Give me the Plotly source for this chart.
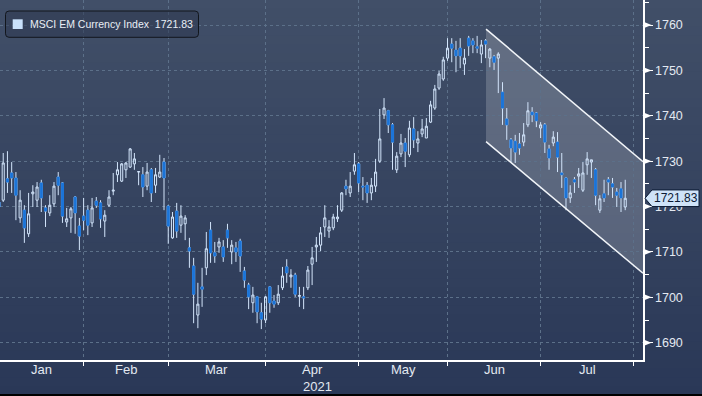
import plotly.graph_objects as go

# ---------------- data (trading-day index, OHLC) ----------------
opens = [1721.0, 1721.4, 1726.1, 1727.4, 1726.3, 1717.5, 1719.2, 1714.0, 1722.8, 1721.4,
         1725.2, 1719.7, 1718.6, 1720.6, 1726.5, 1725.2, 1716.6, 1717.5, 1722.1, 1715.7,
         1717.9, 1719.2, 1716.4, 1721.2, 1720.8, 1716.8, 1720.3, 1723.4, 1727.0, 1725.6,
         1728.1, 1728.7, 1729.4, 1727.6, 1727.0, 1724.5, 1728.1, 1724.7, 1726.5, 1729.8,
         1720.1, 1713.1, 1719.0, 1715.9, 1716.2, 1710.9, 1706.9, 1696.1, 1702.3, 1706.5,
         1714.8, 1709.8, 1711.1, 1711.1, 1714.8, 1710.0, 1710.9, 1712.4, 1705.8, 1702.7,
         1698.8, 1700.1, 1696.6, 1695.0, 1702.3, 1699.2, 1698.8, 1702.1, 1706.7, 1704.5,
         1704.9, 1700.2, 1700.1, 1702.1, 1707.3, 1711.1, 1711.5, 1715.5, 1714.6, 1715.3,
         1717.3, 1719.2, 1724.5, 1723.0, 1727.8, 1729.4, 1724.5, 1724.7, 1723.0, 1724.5,
         1730.0, 1740.2, 1741.1, 1738.0, 1728.1, 1731.6, 1734.0, 1731.4, 1737.1, 1734.0,
         1736.0, 1735.1, 1738.6, 1741.7, 1746.1, 1748.1, 1752.7, 1755.8, 1754.5, 1754.9,
         1751.4, 1757.1, 1756.5, 1755.2, 1753.6, 1756.5, 1752.7, 1753.0, 1752.7, 1745.2,
         1739.3, 1734.7, 1734.4, 1733.8, 1734.2, 1738.0, 1740.8, 1740.6, 1737.3, 1738.0,
         1732.7, 1734.0, 1734.2, 1727.4, 1726.3, 1721.9, 1725.9, 1726.7, 1723.6, 1729.2,
         1729.8, 1728.1, 1719.2, 1722.8, 1725.9, 1725.0, 1723.2, 1723.9, 1719.9]
highs = [1722.0, 1731.8, 1732.2, 1729.8, 1727.6, 1723.6, 1720.3, 1723.0, 1724.7, 1725.4,
         1725.9, 1720.3, 1722.5, 1725.4, 1727.6, 1725.4, 1719.7, 1719.9, 1722.3, 1717.5,
         1721.9, 1720.3, 1721.9, 1722.1, 1721.4, 1719.2, 1723.6, 1727.4, 1729.8, 1729.6,
         1729.8, 1732.9, 1731.8, 1727.7, 1728.7, 1729.6, 1728.5, 1728.5, 1731.4, 1730.7,
         1720.3, 1718.8, 1720.8, 1720.3, 1718.1, 1713.1, 1708.7, 1703.2, 1706.5, 1714.4,
         1716.6, 1712.2, 1713.1, 1712.6, 1716.2, 1712.6, 1712.2, 1712.9, 1706.7, 1703.2,
         1702.3, 1700.3, 1698.8, 1700.3, 1702.5, 1700.5, 1702.7, 1706.7, 1708.4, 1706.2,
         1705.4, 1702.3, 1702.3, 1706.9, 1711.1, 1713.3, 1715.5, 1720.3, 1717.0, 1718.4,
         1720.3, 1723.2, 1725.9, 1727.6, 1731.8, 1729.8, 1726.5, 1725.4, 1726.3, 1730.5,
         1741.5, 1743.9, 1741.3, 1738.4, 1732.0, 1736.0, 1735.1, 1738.9, 1739.7, 1736.6,
         1739.3, 1739.5, 1743.3, 1746.8, 1749.9, 1753.0, 1757.1, 1757.1, 1756.5, 1757.1,
         1754.7, 1757.6, 1757.1, 1757.6, 1756.7, 1756.9, 1754.9, 1753.4, 1754.0, 1747.4,
         1741.7, 1735.1, 1735.8, 1736.2, 1738.4, 1743.0, 1741.9, 1740.8, 1738.6, 1738.4,
         1733.6, 1736.6, 1736.4, 1731.8, 1726.5, 1724.7, 1726.5, 1728.5, 1729.8, 1732.0,
         1730.3, 1728.5, 1722.5, 1725.9, 1726.5, 1726.3, 1724.1, 1725.4, 1725.9]
lows = [1718.0, 1721.0, 1723.0, 1723.0, 1717.0, 1716.4, 1712.0, 1713.3, 1719.9, 1719.9,
        1718.8, 1715.5, 1717.9, 1719.9, 1722.5, 1716.4, 1715.5, 1714.2, 1714.0, 1710.4,
        1714.8, 1713.7, 1715.5, 1719.7, 1715.3, 1713.3, 1719.9, 1722.5, 1725.4, 1725.4,
        1726.3, 1728.5, 1728.1, 1724.7, 1722.1, 1723.6, 1721.0, 1723.0, 1726.3, 1719.2,
        1711.8, 1712.9, 1713.1, 1714.2, 1712.6, 1706.5, 1694.3, 1693.2, 1697.9, 1704.9,
        1707.6, 1707.6, 1709.8, 1707.8, 1710.9, 1707.3, 1707.8, 1705.6, 1702.1, 1697.4,
        1696.6, 1694.3, 1693.0, 1694.3, 1696.6, 1697.7, 1698.3, 1701.6, 1703.2, 1702.1,
        1700.1, 1697.9, 1697.4, 1701.6, 1702.7, 1707.8, 1710.2, 1713.3, 1713.1, 1714.8,
        1716.6, 1718.8, 1722.5, 1722.1, 1727.0, 1723.2, 1721.4, 1720.8, 1721.4, 1723.2,
        1729.6, 1739.3, 1736.2, 1728.1, 1727.4, 1730.9, 1728.7, 1730.9, 1732.9, 1732.0,
        1735.3, 1735.1, 1738.4, 1741.3, 1745.7, 1747.7, 1752.1, 1751.8, 1749.6, 1750.5,
        1749.0, 1753.2, 1753.8, 1753.8, 1751.6, 1752.7, 1750.7, 1750.1, 1745.0, 1738.0,
        1734.7, 1729.8, 1729.6, 1731.4, 1733.3, 1737.5, 1738.6, 1737.5, 1735.1, 1731.8,
        1728.1, 1733.3, 1727.6, 1724.1, 1719.2, 1720.8, 1723.0, 1724.1, 1723.2, 1727.0,
        1726.3, 1720.3, 1718.6, 1721.0, 1722.5, 1721.9, 1719.9, 1718.8, 1719.2]
closes = [1719.9, 1729.6, 1725.4, 1726.3, 1722.5, 1721.4, 1715.3, 1718.4, 1723.2, 1724.3,
          1721.9, 1719.0, 1720.3, 1724.5, 1724.7, 1717.9, 1717.3, 1719.5, 1718.6, 1713.5,
          1717.0, 1715.9, 1719.7, 1720.3, 1717.3, 1718.1, 1722.1, 1723.6, 1728.1, 1729.4,
          1729.6, 1732.7, 1730.5, 1727.7, 1724.3, 1727.6, 1723.0, 1727.0, 1727.6, 1726.3,
          1715.7, 1717.7, 1714.6, 1717.9, 1717.5, 1710.2, 1700.7, 1698.5, 1701.8, 1710.7,
          1709.8, 1709.1, 1712.2, 1708.9, 1713.1, 1711.5, 1710.0, 1709.1, 1703.8, 1700.1,
          1700.5, 1696.8, 1695.2, 1700.1, 1698.8, 1698.5, 1700.7, 1704.7, 1705.4, 1704.9,
          1700.7, 1700.4, 1699.9, 1706.0, 1708.7, 1711.5, 1714.2, 1717.5, 1715.5, 1717.7,
          1717.7, 1723.0, 1723.9, 1724.5, 1729.2, 1725.2, 1724.3, 1723.0, 1724.7, 1727.6,
          1734.9, 1741.7, 1738.0, 1734.2, 1731.1, 1734.0, 1732.2, 1737.3, 1734.7, 1734.9,
          1737.1, 1737.7, 1742.4, 1745.9, 1749.2, 1752.3, 1754.9, 1754.9, 1753.2, 1753.2,
          1752.7, 1755.4, 1755.6, 1754.9, 1755.6, 1755.8, 1754.7, 1751.8, 1753.6, 1741.7,
          1738.0, 1732.9, 1732.0, 1732.9, 1735.8, 1741.1, 1740.2, 1738.9, 1738.0, 1734.2,
          1730.7, 1735.3, 1730.9, 1727.0, 1721.9, 1723.0, 1725.4, 1727.2, 1727.4, 1730.5,
          1730.3, 1722.5, 1721.7, 1721.9, 1725.4, 1724.3, 1722.5, 1721.9, 1721.83]
x_idx = list(range(len(closes)))

month_names = ["Jan", "Feb", "Mar", "Apr", "May", "Jun", "Jul"]
month_start = [0, 20, 40, 63, 85, 106, 128, 150]   # first trading-day index of each month
year_label = "2021"
series_name = "MSCI EM Currency Index"
y_ticks = [1690, 1700, 1710, 1720, 1730, 1740, 1750, 1760]
channel_x = [115.1, 152.2]
channel_upper = [1759.1, 1729.9]
channel_lower = [1734.3, 1705.3]

# ---------------- styling ----------------
X_RANGE = [0.24, 152.2]
Y_RANGE = [1686.19, 1765.51]
W, H = 702, 396
ML, MR, MT, MB = 0, 59, 0, 36
PW, PH = W - ML - MR, H - MT - MB
FONT = "Liberation Sans, Arial, sans-serif"
UP_LINE = "#d3e5fb"
DOWN_FILL = "#1b74d8"
GRID = "#5c7089"
TXT = "#e3e9f1"


def px(xp):
    return xp / PW


def py(yp):
    return (PH - yp) / PH


shapes = []
# vertical gradient background
top_c, bot_c = (65, 79, 104), (42, 56, 87)
N = 44
for i in range(N):
    t = (i + 0.5) / N
    c = tuple(round(a + (b - a) * t) for a, b in zip(top_c, bot_c))
    shapes.append(dict(type="rect", xref="paper", yref="paper", layer="below",
                       x0=-0.01, x1=W / PW + 0.01,
                       y0=py(H * (i + 1) / N + 0.5), y1=py(H * i / N - 0.5),
                       fillcolor="rgb(%d,%d,%d)" % c, line=dict(width=0)))
# bottom black strip
shapes.append(dict(type="rect", xref="paper", yref="paper", layer="above",
                   x0=-0.01, x1=W / PW + 0.01, y0=py(H + 1), y1=py(H - 2),
                   fillcolor="#000000", line=dict(width=0)))

# channel fill + edges
shapes.append(dict(type="path", xref="x", yref="y", layer="below",
                   path="M %f,%f L %f,%f L %f,%f L %f,%f Z" % (
                       channel_x[0], channel_upper[0], channel_x[1], channel_upper[1],
                       channel_x[1], channel_lower[1], channel_x[0], channel_lower[0]),
                   fillcolor="rgba(255,255,255,0.19)", line=dict(width=0)))
for yy in (channel_upper, channel_lower):
    shapes.append(dict(type="line", xref="x", yref="y", layer="above",
                       x0=channel_x[0], y0=yy[0], x1=channel_x[1], y1=yy[1],
                       line=dict(color="#f2f5f9", width=1.5)))

# right axis triangle markers
ppu = PH / (Y_RANGE[1] - Y_RANGE[0])
for v in y_ticks:
    d = 3.2 / ppu
    shapes.append(dict(type="path", xref="paper", yref="y", layer="above",
                       path="M %f,%f L %f,%f L %f,%f Z" % (
                           px(PW + 0.5), v - d, px(PW + 0.5), v + d, px(PW + 8.5), v),
                       fillcolor="#ffffff", line=dict(width=0)))

# current value flag
last_value = closes[-1]
hh = 8.3 / ppu
shapes.append(dict(type="path", xref="paper", yref="y", layer="above",
                   path="M %f,%f L %f,%f L %f,%f L %f,%f L %f,%f Z" % (
                       px(PW + 2), last_value, px(PW + 9), last_value + hh,
                       px(PW + 56), last_value + hh, px(PW + 56), last_value - hh,
                       px(PW + 9), last_value - hh),
                   fillcolor="#cfe3f8", line=dict(color="#0b1a34", width=1)))

# legend box (rounded)
lx0, lx1, ly0, ly1, r = 5.5, 198.5, 11, 37.3, 3.5
path = ("M %f,%f L %f,%f Q %f,%f %f,%f L %f,%f Q %f,%f %f,%f L %f,%f Q %f,%f %f,%f "
        "L %f,%f Q %f,%f %f,%f Z") % (
    px(lx0 + r), py(ly0), px(lx1 - r), py(ly0), px(lx1), py(ly0), px(lx1), py(ly0 + r),
    px(lx1), py(ly1 - r), px(lx1), py(ly1), px(lx1 - r), py(ly1),
    px(lx0 + r), py(ly1), px(lx0), py(ly1), px(lx0), py(ly1 - r),
    px(lx0), py(ly0 + r), px(lx0), py(ly0), px(lx0 + r), py(ly0))
shapes.append(dict(type="path", xref="paper", yref="paper", layer="above", path=path,
                   fillcolor="rgba(45,57,80,0.55)", line=dict(color="#12161d", width=1)))
shapes.append(dict(type="rect", xref="paper", yref="paper", layer="above",
                   x0=px(12.7), x1=px(22.7), y0=py(29), y1=py(19.3),
                   fillcolor="#c9e1fb", line=dict(width=0)))

annotations = []
annotations.append(dict(xref="paper", yref="paper", x=px(28), y=py(24.2),
                        xanchor="left", yanchor="middle", showarrow=False,
                        text=series_name + "\u00a0 " + "%.2f" % last_value,
                        font=dict(family=FONT, size=10.5, color="#e9eef6")))
annotations.append(dict(xref="paper", yref="y", x=px(PW + 32.5), y=last_value,
                        xanchor="center", yanchor="middle", showarrow=False,
                        text="%.2f" % last_value,
                        font=dict(family=FONT, size=12, color="#0b1a34")))
for i, m in enumerate(month_names):
    annotations.append(dict(xref="x", yref="paper",
                            x=(month_start[i] + month_start[i + 1]) / 2, y=py(370),
                            xanchor="center", yanchor="middle", showarrow=False, text=m,
                            font=dict(family=FONT, size=13, color=TXT)))
annotations.append(dict(xref="x", yref="paper",
                        x=(month_start[3] + month_start[4]) / 2 + 1.2, y=py(386),
                        xanchor="center", yanchor="middle", showarrow=False, text=year_label,
                        font=dict(family=FONT, size=13, color=TXT)))

# ---------------- traces ----------------
fig = go.Figure()
fig.add_trace(go.Candlestick(
    x=x_idx, open=opens, high=highs, low=lows, close=closes,
    increasing=dict(line=dict(color=UP_LINE, width=1), fillcolor="rgba(0,0,0,0)"),
    decreasing=dict(line=dict(color=UP_LINE, width=1), fillcolor=DOWN_FILL),
    showlegend=False, hoverinfo="skip"))
# solid blue bodies for falling days
dn = [i for i in x_idx if closes[i] < opens[i]]
fig.add_trace(go.Candlestick(
    x=dn, open=[opens[i] for i in dn], high=[opens[i] for i in dn],
    low=[closes[i] for i in dn], close=[closes[i] for i in dn],
    increasing=dict(line=dict(color=DOWN_FILL, width=1), fillcolor=DOWN_FILL),
    decreasing=dict(line=dict(color=DOWN_FILL, width=1), fillcolor=DOWN_FILL),
    showlegend=False, hoverinfo="skip"))

fig.update_layout(
    width=W, height=H, autosize=False,
    margin=dict(l=ML, r=MR, t=MT, b=MB, pad=0),
    paper_bgcolor="rgb(52,66,94)", plot_bgcolor="rgba(0,0,0,0)",
    showlegend=False, hovermode=False,
    shapes=shapes, annotations=annotations,
    font=dict(family=FONT, color=TXT),
    xaxis=dict(range=X_RANGE, rangeslider=dict(visible=False),
               tickvals=month_start, ticktext=[""] * len(month_start),
               ticks="outside", ticklen=4, tickcolor="#ffffff", tickwidth=1,
               showgrid=True, gridcolor=GRID, griddash="dot", gridwidth=1,
               showline=True, linecolor="#ffffff", linewidth=1.5,
               zeroline=False, fixedrange=True),
    yaxis=dict(range=Y_RANGE, side="right", tickvals=y_ticks,
               ticks="outside", ticklen=8, tickcolor="#ffffff", tickwidth=1,
               tickfont=dict(family=FONT, size=12.5, color=TXT),
               minor=dict(dtick=5, tick0=1685, ticks="outside", ticklen=4,
                          tickcolor="#ffffff", showgrid=False),
               showgrid=True, gridcolor=GRID, griddash="dot", gridwidth=1,
               showline=True, linecolor="#ffffff", linewidth=1.5,
               zeroline=False, fixedrange=True),
)

fig.write_html("out.html", config={"displayModeBar": False, "staticPlot": True},
               post_script="document.body.style.margin='0';document.body.style.overflow='hidden';")
